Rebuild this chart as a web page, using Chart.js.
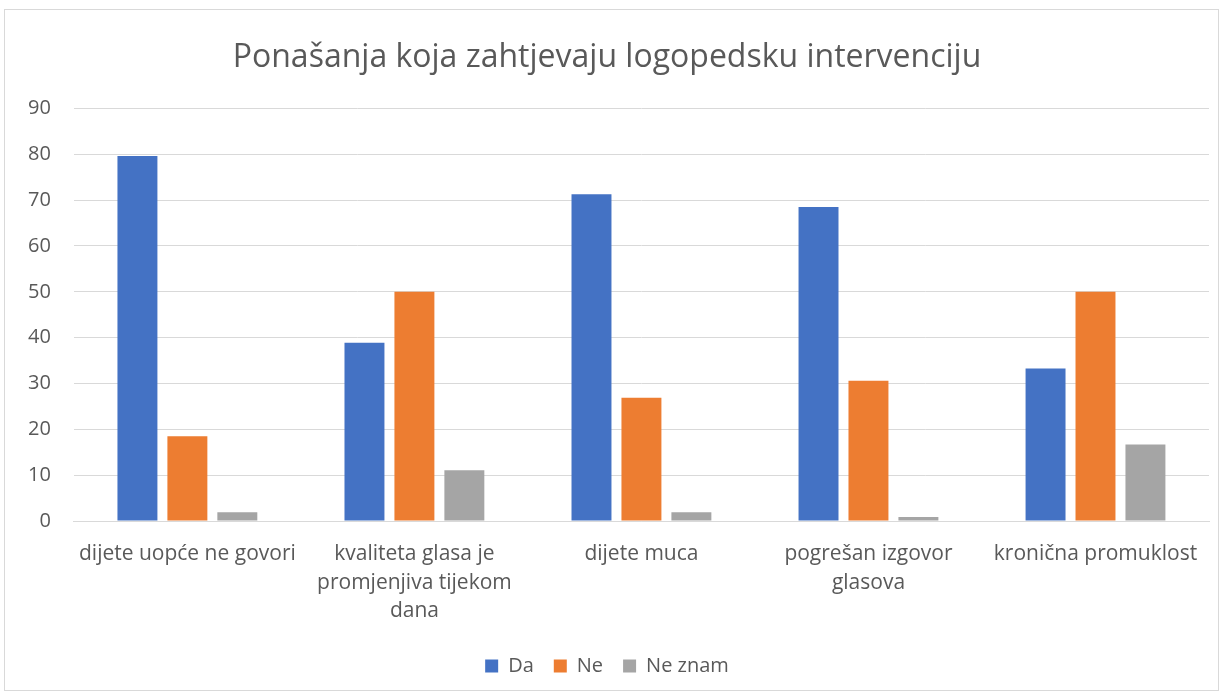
<!DOCTYPE html>
<html>
<head>
<meta charset="utf-8">
<script src="https://cdn.jsdelivr.net/npm/chart.js@4/dist/chart.umd.min.js"></script>
<style>
  html, body { margin: 0; padding: 0; background: #fff; }
  #wrap { position: absolute; left: 4px; top: 9px; width: 1215px; height: 682px; border: 1px solid #d9d9d9; box-sizing: border-box; }
</style>
</head>
<body>
<div id="wrap"><canvas id="chart"></canvas></div>
<script>
var categories = [
  'dijete uopće ne govori',
  ['kvaliteta glasa je', 'promjenjiva tijekom', 'dana'],
  'dijete muca',
  ['pogrešan izgovor', 'glasova'],
  'kronična promuklost'
];
var da = [79.6, 38.9, 71.3, 68.5, 33.3];
var ne = [18.5, 50, 26.9, 30.6, 50];
var neZnam = [1.9, 11.1, 1.9, 0.9, 16.7];

var font = "'Open Sans', 'Noto Sans', sans-serif";
var textColor = '#595959';

var ctx = document.getElementById('chart');
new Chart(ctx, {
  type: 'bar',
  data: {
    labels: categories,
    datasets: [
      { label: 'Da', data: da, backgroundColor: '#4472c4' },
      { label: 'Ne', data: ne, backgroundColor: '#ed7d31' },
      { label: 'Ne znam', data: neZnam, backgroundColor: '#a5a5a5' }
    ]
  },
  options: {
    responsive: true,
    maintainAspectRatio: false,
    animation: false,
    datasets: { bar: { barPercentage: 0.8, categoryPercentage: 0.66 } },
    layout: { padding: { left: 0, right: 9, top: 0, bottom: 4 } },
    plugins: {
      title: {
        display: true,
        text: 'Ponašanja koja zahtjevaju logopedsku intervenciju',
        color: textColor,
        font: { family: font, size: 32, weight: 'normal' },
        padding: { top: 29, bottom: 31 }
      },
      legend: {
        position: 'bottom',
        labels: {
          color: textColor,
          font: { family: font, size: 20 },
          boxWidth: 13,
          boxHeight: 13,
          padding: 20
        }
      },
      tooltip: { enabled: false }
    },
    scales: {
      x: {
        grid: { display: false },
        border: { color: '#d9d9d9' },
        ticks: { color: textColor, font: { family: font, size: 21, lineHeight: 1.38 }, maxRotation: 0, autoSkip: false, padding: 10 }
      },
      y: {
        min: 0,
        max: 90,
        ticks: { stepSize: 10, color: textColor, font: { family: font, size: 20 }, padding: 23 },
        grid: { color: '#d9d9d9', drawTicks: false },
        border: { display: false }
      }
    }
  }
});
</script>
</body>
</html>
